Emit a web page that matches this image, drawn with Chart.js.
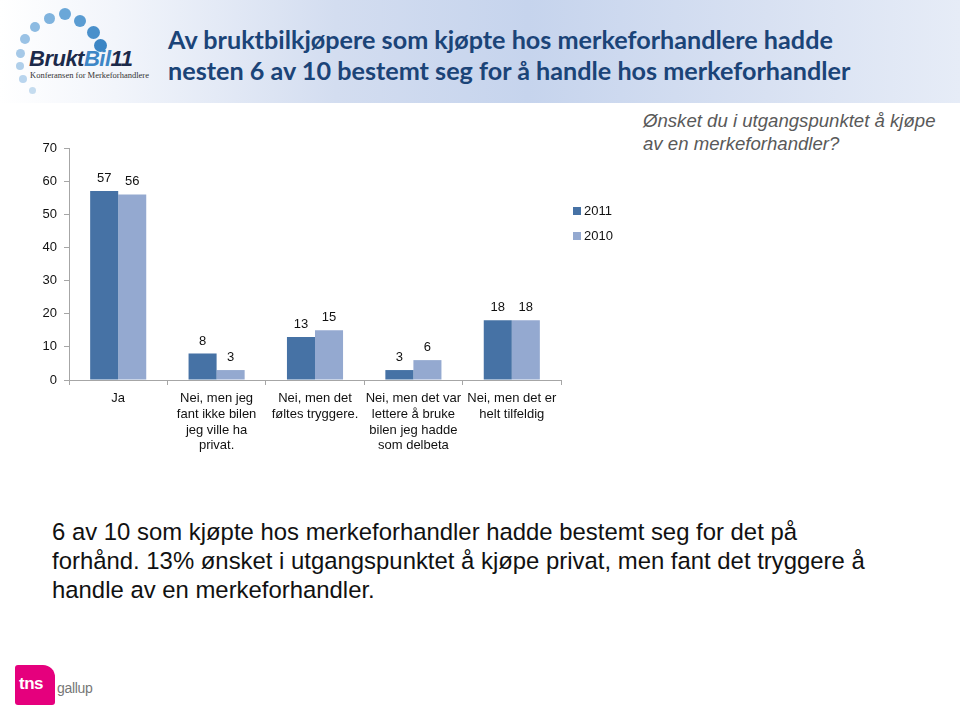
<!DOCTYPE html>
<html>
<head>
<meta charset="utf-8">
<script src="https://cdn.jsdelivr.net/npm/chart.js@4/dist/chart.umd.min.js"></script>
<style>
    html, body { margin: 0; padding: 0; background: #fff; }
    body { width: 960px; height: 707px; position: relative; overflow: hidden; font-family: "Liberation Sans", Arial, sans-serif; }
    .header { position: absolute; left: 0; top: 0; width: 960px; height: 103px;
        background: linear-gradient(to right, #ffffff 0%, #f2f5fb 12%, #d3ddf0 35%, #c6d4ed 55%, #d8e1f2 80%, #e6ecf7 100%); }
    .title { position: absolute; left: 168px; top: 24px; color: #1b4478; font-family: Lato, "Open Sans", sans-serif;
        font-weight: bold; font-size: 25.2px; line-height: 31px; white-space: nowrap; }
    .dot { position: absolute; border-radius: 50%; }
    .logo-text { position: absolute; left: 29px; top: 46px; font-family: "Liberation Sans", Arial, sans-serif; font-weight: bold;
        font-style: italic; font-size: 22px; color: #1c2a4a; letter-spacing: -0.5px; }
    .logo-text span { color: #3d86c6; }
    .logo-sub { position: absolute; left: 30px; top: 70px; font-family: "Liberation Serif", serif; font-size: 8.5px; color: #333; white-space: nowrap; }
    .question { position: absolute; left: 643px; top: 109px; font-style: italic; font-size: 18.6px; line-height: 23px; color: #595959; white-space: nowrap; }
    #chartWrap { position: absolute; left: 0; top: 120px; width: 660px; height: 360px; }
    .para { position: absolute; left: 52px; top: 517px; font-size: 23.9px; line-height: 29px; color: #111; white-space: nowrap; }
    .tns { position: absolute; left: 15px; top: 665px; width: 40px; height: 40px; background: #e5007d;
        border-radius: 3px 12px 3px 3px; }
    .tns span { position: absolute; left: 4px; top: 9px; color: #fff; font-weight: bold; font-size: 17px; letter-spacing: -0.5px; }
    .gallup { position: absolute; left: 57px; top: 680px; font-size: 14px; color: #777; letter-spacing: -0.3px; }
</style>
</head>
<body>
<div class="header"></div>
<div id="logo"></div>
<div class="logo-text">Brukt<span>Bil</span>11</div>
<div class="logo-sub">Konferansen for Merkeforhandlere</div>
<div class="title">Av bruktbilkjøpere som kjøpte hos merkeforhandlere hadde<br>nesten 6 av 10 bestemt seg for å handle hos merkeforhandler</div>
<div class="question">Ønsket du i utgangspunktet å kjøpe<br>av en merkeforhandler?</div>
<div id="chartWrap"><canvas id="chart" width="660" height="360"></canvas></div>
<div class="para">6 av 10 som kjøpte hos merkeforhandler hadde bestemt seg for det på<br>forhånd. 13% ønsket i utgangspunktet å kjøpe privat, men fant det tryggere å<br>handle av en merkeforhandler.</div>
<div class="tns"><span>tns</span></div>
<div class="gallup">gallup</div>

<script>
    // kategorier og verdier
    const categories = [
        "Ja",
        ["Nei, men jeg", "fant ikke bilen", "jeg ville ha", "privat."],
        ["Nei, men det", "føltes tryggere."],
        ["Nei, men det var", "lettere å bruke", "bilen jeg hadde", "som delbeta"],
        ["Nei, men det er", "helt tilfeldig"]
    ];
    const values2011 = [57, 8, 13, 3, 18];
    const values2010 = [56, 3, 15, 6, 18];
    const seriesNames = ["2011", "2010"];
    const yMin = 0;
    const yMax = 70;
    const yStep = 10;

    // prikkene i logoen
    const dots = [
        [32, 90, 7, "#c5dcef"], [23, 79, 8, "#b9d5ee"], [20, 66, 8, "#b0cfea"], [20, 53, 9, "#a6c9e8"],
        [25, 39, 10, "#9ac2e5"], [35, 27, 10, "#8dbbe2"], [49, 18, 11, "#7fb3de"], [65, 14, 12, "#6aa7d8"],
        [80, 21, 12, "#5a9cd2"], [93, 32, 13, "#4a90cb"], [100, 45, 13, "#3c86c5"]
    ];
    const logo = document.getElementById("logo");
    dots.forEach(d => {
        const el = document.createElement("div");
        el.className = "dot";
        el.style.left = (d[0] - d[2] / 2) + "px";
        el.style.top = (d[1] - d[2] / 2) + "px";
        el.style.width = d[2] + "px";
        el.style.height = d[2] + "px";
        el.style.background = d[3];
        logo.appendChild(el);
    });

    const colors = ["#4672a5", "#94a9d0"];
    const tickFont = { family: "'Liberation Sans', Arial, sans-serif", size: 13 };

    // tall over søylene
    const valueLabels = {
        id: "valueLabels",
        afterDatasetsDraw(chart) {
            const ctx = chart.ctx;
            ctx.save();
            ctx.font = "13px 'Liberation Sans', Arial, sans-serif";
            ctx.fillStyle = "#111";
            ctx.textAlign = "center";
            ctx.textBaseline = "bottom";
            chart.data.datasets.forEach((ds, i) => {
                chart.getDatasetMeta(i).data.forEach((bar, j) => {
                    ctx.fillText(String(ds.data[j]), bar.x, bar.y - 6);
                });
            });
            ctx.restore();
        }
    };

    // egen legend til høyre
    const sideLegend = {
        id: "sideLegend",
        afterDraw(chart) {
            const ctx = chart.ctx;
            const x = chart.chartArea.right + 12;
            ctx.save();
            ctx.font = "13px 'Liberation Sans', Arial, sans-serif";
            ctx.textBaseline = "middle";
            chart.data.datasets.forEach((ds, i) => {
                const y = chart.chartArea.top + 63 + i * 25;
                ctx.fillStyle = ds.backgroundColor;
                ctx.fillRect(x, y - 4, 8, 8);
                ctx.fillStyle = "#111";
                ctx.fillText(ds.label, x + 11, y);
            });
            ctx.restore();
        }
    };

    new Chart(document.getElementById("chart"), {
        type: "bar",
        data: {
            labels: categories,
            datasets: [
                { label: seriesNames[0], data: values2011, backgroundColor: colors[0] },
                { label: seriesNames[1], data: values2010, backgroundColor: colors[1] }
            ]
        },
        options: {
            responsive: false,
            animation: false,
            devicePixelRatio: 1,
            layout: { padding: { left: 0, top: 28, right: 99, bottom: 0 } },
            plugins: { legend: { display: false }, tooltip: { enabled: false } },
            datasets: { bar: { categoryPercentage: 0.57, barPercentage: 1 } },
            scales: {
                x: {
                    grid: { display: true, drawOnChartArea: false, tickLength: 5, color: "#a6a6a6" },
                    border: { color: "#a6a6a6" },
                    ticks: { font: tickFont, color: "#111", padding: 6, maxRotation: 0, autoSkip: false },
                    afterFit: s => { s.height = 100; }
                },
                y: {
                    min: yMin, max: yMax,
                    grid: { display: true, drawOnChartArea: false, tickLength: 5, color: "#a6a6a6" },
                    border: { color: "#a6a6a6" },
                    ticks: { stepSize: yStep, font: tickFont, color: "#111", padding: 7 },
                    afterFit: s => { s.width = 69; }
                }
            }
        },
        plugins: [valueLabels, sideLegend]
    });
</script>
</body>
</html>
